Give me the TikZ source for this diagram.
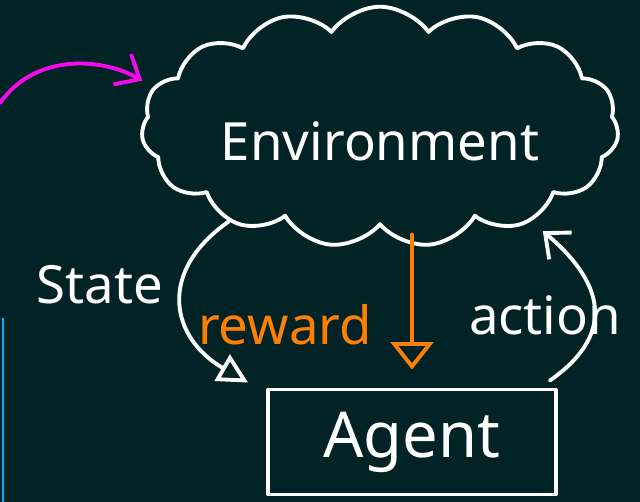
\documentclass[tikz,border=0pt]{standalone}
\usepackage{fontspec}
\setmainfont{Noto Sans}
\usepackage{tikz}
\usetikzlibrary{shapes.symbols}
\usetikzlibrary{positioning, arrows.meta}
\usetikzlibrary{calc}

\definecolor{board}{RGB}{2,35,37}
\definecolor{chalkorange}{RGB}{255,128,0}
\definecolor{chalkpink}{RGB}{245,10,235}
\definecolor{chalkblue}{RGB}{0,176,240}

\begin{document}
\begin{tikzpicture}
        [
            x=0.02cm, y=0.02cm,
            chalk/.style={white, line width=2.2pt, line cap=round, line join=round},
            word/.style={white, font=\fontsize{30}{36}\selectfont},
            env/.style={cloud, cloud puffs=15, cloud puff arc=110, aspect=2.4, draw, chalk, minimum width=9.3cm, minimum height=3.4cm, text height=38pt, text depth=0pt},
            box/.style={draw, chalk, minimum width=5.76cm, minimum height=2.1cm},
            head/.style={-{Triangle[open, length=0.6cm, width=0.6cm]}},
            bighead/.style={-{Triangle[open, length=0.55cm, width=0.85cm]}},
            barb/.style={-{Straight Barb[length=0.4cm, width=0.7cm]}},
        ]
        \fill[board] (0,0) rectangle (640,502);
        \useasboundingbox (0,0) rectangle (640,502);
        \node[env, word] (environment) at (380,375) {Environment};
        \node[box, word, font=\fontsize{36}{42}\selectfont] (agent) at (412,60) {Agent};
        \node[word] (state) at (100,217) {State};
        \node[word, chalkorange] (reward) at (285,177) {reward};
        \node[word] (action) at (545,187) {action};
        \coordinate (edge) at (0,399);

        \draw[chalk, head] (environment.212) to[out=215, in=150, looseness=1.4] ([shift={(-18,5)}]agent.north west);
        \draw[chalk, barb, shorten >=0.3cm] ([shift={(-8,7)}]agent.north east) to[out=35, in=-40, looseness=1.4] (environment.328);
        \draw[chalk, chalkorange, bighead, shorten <=0.15cm, shorten >=0.36cm] (environment.south -| agent.north) -- (agent.north);
        \draw[chalk, chalkpink, barb, shorten >=0.25cm] (edge) to[out=55, in=150] (environment.170);
        \draw[chalkblue, line width=1.7pt] (3,184) -- (3,0);
\end{tikzpicture}
\end{document}
